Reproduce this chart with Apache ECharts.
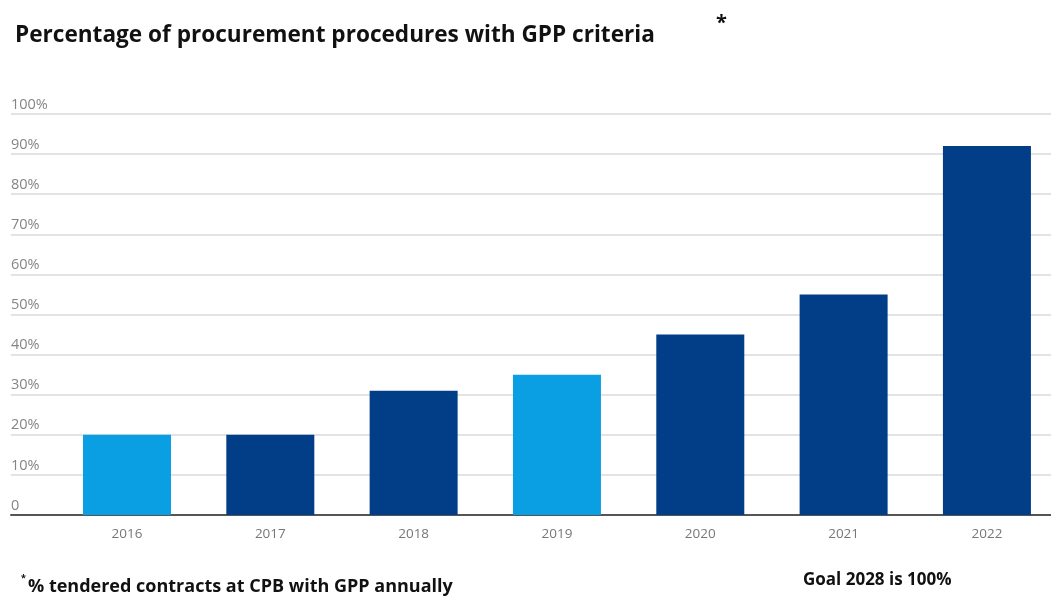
<!DOCTYPE html>
<html>
<head>
<meta charset="utf-8">
<script src="https://cdn.jsdelivr.net/npm/echarts@6/dist/echarts.min.js"></script>
<style>html,body{margin:0;padding:0;background:#fff}#c{width:1051px;height:598px}</style>
</head>
<body>
<div id="c"></div>
<script>
const years = ['2016', '2017', '2018', '2019', '2020', '2021', '2022'];
const shares = [20, 20, 31, 35, 45, 55, 92];
const highlightedYears = ['2016', '2019'];
const yTickLabels = ['0', '10%', '20%', '30%', '40%', '50%', '60%', '70%', '80%', '90%', '100%'];

const LIGHT = '#0a9fe2';
const DARK = '#013e87';
const yearIdx = years.map((y, i) => i);
const chart = echarts.init(document.getElementById('c'));
chart.setOption({
  backgroundColor: '#ffffff',
  animation: false,
  title: {
    text: 'Percentage of procurement procedures with GPP criteria',
    left: 10, top: 19,
    textStyle: { fontFamily: 'Open Sans', fontWeight: 'bold', fontSize: 22.6, color: '#111' }
  },
  graphic: [
    { type: 'text', left: 716, top: 13, style: { text: '*', font: 'bold 20px "Open Sans"', fill: '#111' } },
    { type: 'text', left: 21, top: 574, style: { text: '*', font: 'bold 9px "Open Sans"', fill: '#111' } },
    { type: 'text', left: 28, top: 578, style: { text: '% tendered contracts at CPB with GPP annually', font: 'bold 18px "Open Sans"', fill: '#111' } },
    { type: 'text', left: 803, top: 572, style: { text: 'Goal 2028 is 100%', font: 'bold 17px "Open Sans"', fill: '#111' } }
  ],
  grid: [
    { left: 11, right: 0, top: 114, bottom: 83 },
    { left: 55, right: 0, top: 114, bottom: 83 }
  ],
  xAxis: [
    { type: 'category', gridIndex: 0, data: years, show: true,
      axisLine: { lineStyle: { color: '#555', width: 2 } },
      axisTick: { show: false }, axisLabel: { show: false }, splitLine: { show: false } },
    { type: 'value', gridIndex: 1, min: -0.5023, max: 6.447,
      axisLine: { show: false }, axisTick: { show: false }, splitLine: { show: false },
      axisLabel: { customValues: yearIdx, formatter: v => years[Math.round(v)],
        color: '#777', fontSize: 13.5, fontFamily: 'Open Sans', margin: 12 } }
  ],
  yAxis: [
    { type: 'value', gridIndex: 0, min: 0, max: 100, interval: 10,
      axisLine: { show: false }, axisTick: { show: false },
      splitLine: { lineStyle: { color: '#e3e3e3', width: 2 } },
      axisLabel: { inside: true, margin: 0, verticalAlign: 'bottom', padding: [0, 0, 2, 0],
        color: '#858585', fontSize: 14.5, fontFamily: 'Open Sans',
        formatter: v => yTickLabels[Math.round(v / 10)] } },
    { type: 'value', gridIndex: 1, min: 0, max: 100, interval: 10, show: false, splitLine: { show: false } }
  ],
  series: [{
    type: 'bar', xAxisIndex: 1, yAxisIndex: 1, barWidth: 88,
    data: shares.map((v, i) => ({ value: [i, v], itemStyle: { color: highlightedYears.includes(years[i]) ? LIGHT : DARK } }))
  }]
});
</script>
</body>
</html>
